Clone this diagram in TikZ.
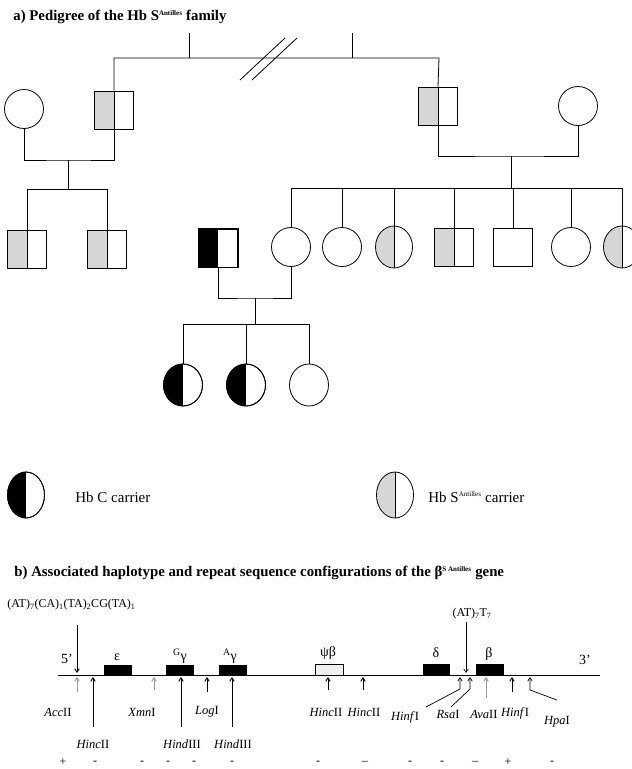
\documentclass[tikz,border=0pt]{standalone}
\usepackage{fontspec}
\setmainfont{Liberation Serif}
\usetikzlibrary{shapes.geometric,arrows.meta}
\definecolor{hgray}{gray}{0.84}
\definecolor{agray}{gray}{0.6}
\begin{document}
\begin{tikzpicture}[x=1pt,y=-1pt,line width=0.8pt,
  male/.style={draw,rectangle,minimum width=39pt,minimum height=38pt,inner sep=0pt},
  fem/.style={draw,circle,minimum size=39pt,inner sep=0pt},
  femE/.style={draw,ellipse,minimum width=37pt,minimum height=42pt,inner sep=0pt},
  halfgray/.style={path picture={\fill[hgray] (path picture bounding box.south west) rectangle (path picture bounding box.north);
     \draw[line width=0.8pt] (path picture bounding box.south) -- (path picture bounding box.north);}},
  halfblack/.style={path picture={\fill[black] (path picture bounding box.south west) rectangle (path picture bounding box.north);}},
  ttl/.style={font=\fontsize{14.8}{16}\selectfont\bfseries,anchor=west,inner sep=0pt},
  lbl/.style={font=\fontsize{15}{17}\selectfont,inner sep=0pt},
  enzl/.style={font=\fontsize{12.5}{14}\selectfont,inner sep=0pt},
  sgn/.style={font=\fontsize{12}{13}\selectfont,inner sep=0pt},
  gene/.style={draw,fill=black,line width=0.6pt},
  enz/.style={-{Straight Barb[length=3.5pt,width=4.5pt]},line width=0.9pt},
  genlbl/.style={font=\fontsize{14}{16}\selectfont,inner sep=0pt},
  rpl/.style={font=\fontsize{12}{14}\selectfont,inner sep=0pt}
]
\useasboundingbox (0,0) rectangle (632,769);

% ---------- titles ----------
\node[ttl] (ta) at (13,17) {a) Pedigree of the Hb S\textsuperscript{\scriptsize Antilles} family};
\node[ttl] (tb) at (14,573) {b) Associated haplotype and repeat sequence configurations of the β\textsuperscript{\scriptsize S Antilles} gene};

% ---------- generation I ----------
\node[fem] (gf1) at (24,109) {};
\node[male,halfgray] (gm1) at (114,110) {};
\node[male,halfgray] (gm2) at (438,106) {};
\node[fem] (gf2) at (578,106) {};

\coordinate (t1) at (114,58);
\coordinate (t2) at (439,58);
\coordinate (u1) at (189,33);
\coordinate (u1b) at (189,58);
\coordinate (u2) at (352,33);
\coordinate (u2b) at (352,58);
\draw (gm1.north) -- (t1) -- (t2) -- (gm2.north);
\draw (u1) -- (u1b);
\draw (u2) -- (u2b);
\coordinate (s1a) at (240,80); \coordinate (s1b) at (285,38);
\coordinate (s2a) at (252,80); \coordinate (s2b) at (297,38);
\draw (s1a) -- (s1b);
\draw (s2a) -- (s2b);

% couple 1
\coordinate (m1) at (68,160);
\draw (gf1.south) |- (m1) -| (gm1.south);
\coordinate (m1b) at (68,189);
\draw (m1) -- (m1b);
\node[male,halfgray] (c1) at (27,249) {};
\node[male,halfgray] (c2) at (107,249) {};
\coordinate (b1l) at (27,189);
\coordinate (b1r) at (107,189);
\draw (c1.north) -- (b1l) -- (b1r) -- (c2.north);

% couple 2
\coordinate (m2) at (511,156);
\draw (gm2.south) |- (m2) -| (gf2.south);
\coordinate (m2b) at (511,188);
\draw (m2) -- (m2b);
\node[fem] (d1) at (291,247) {};
\node[fem] (d2) at (342,247) {};
\node[femE,halfgray] (d3) at (394,247) {};
\node[male,halfgray] (d4) at (454,247) {};
\node[male] (d5) at (513,247) {};
\node[fem] (d6) at (571,247) {};
\node[femE,halfgray] (d7) at (622,247) {};
\coordinate (b2l) at (291,188);
\coordinate (b2r) at (622,188);
\draw (d1.north) -- (b2l) -- (b2r) -- (d7.north);
\foreach \n in {d2,d3,d4,d5,d6}{
  \draw (\n.north) -- (\n.north |- b2l);
}

% couple 3
\node[male,halfblack] (h) at (218,248) {};
\draw (h.north west) rectangle (h.south east);
\coordinate (m3) at (255,298);
\draw (h.south) |- (m3) -| (d1.south);
\coordinate (m3b) at (255,324);
\draw (m3) -- (m3b);
\node[femE,halfblack,minimum width=39pt] (g1) at (183,385) {};
\node[femE,halfblack,minimum width=39pt] (g2) at (246,385) {};
\node[femE,minimum width=39pt] (g3) at (309,385) {};
\draw (g1) ellipse [x radius=19.5pt,y radius=21pt];
\draw (g2) ellipse [x radius=19.5pt,y radius=21pt];
\coordinate (b3l) at (183,324);
\coordinate (b3r) at (309,324);
\draw (g1.north) -- (b3l) -- (b3r) -- (g3.north);
\draw (g2.north) -- (g2.north |- b3l);

% ---------- legend ----------
\node[femE,halfblack,minimum height=46pt] (l1) at (26,495) {};
\draw (l1) ellipse [x radius=18.5pt,y radius=23pt];
\node[lbl,anchor=west] (l1t) at (75,497) {Hb C carrier};
\node[femE,halfgray,minimum height=46pt] (l2) at (395,495) {};
\node[lbl,anchor=west] (l2t) at (428,497) {Hb S\textsuperscript{\scriptsize Antilles} carrier};

% ---------- gene map ----------
\coordinate (bl) at (58,675);
\coordinate (br) at (600,675);
\draw[line width=0.9pt] (bl) -- (br);
\node[genlbl] (p5) at (67,659) {5'};
\node[genlbl] (p3) at (585,660) {3'};

\fill[gene] (104,665) rectangle (131,675);
\fill[gene] (166,665) rectangle (193,675);
\fill[gene] (219,665) rectangle (246,675);
\filldraw[draw=black,fill=gray!12,line width=0.8pt] (315,664) rectangle (343,675);
\fill[gene] (423,664) rectangle (449,675);
\fill[gene] (476,664) rectangle (503,675);
\node[genlbl] (ge) at (117,657) {ε};
\node[genlbl] (ggg) at (180,656) {\textsuperscript{G}γ};
\node[genlbl] (gag) at (230,656) {\textsuperscript{A}γ};
\node[genlbl] (gpb) at (328,653) {ψβ};
\node[genlbl] (gd) at (436,653) {δ};
\node[genlbl] (gb) at (489,654) {β};

% repeat labels
\node[rpl,anchor=west] (rp1) at (7,605) {(AT)\textsubscript{7}(CA)\textsubscript{1}(TA)\textsubscript{2}CG(TA)\textsubscript{1}};
\node[rpl] (rp2) at (472,614) {(AT)\textsubscript{7}T\textsubscript{7}};
\coordinate (r1a) at (77,625); \coordinate (r1b) at (77,673);
\draw[enz] (r1a) -- (r1b);
\coordinate (r2a) at (466,622); \coordinate (r2b) at (466,673);
\draw[enz,line width=0.6pt] (r2a) -- (r2b);

% enzyme arrows
\draw[enz,agray] (77,692) -- (77,677);
\draw[enz] (93,727) -- (93,677);
\draw[enz,agray] (154,690) -- (154,677);
\draw[enz] (181,727) -- (181,677);
\draw[enz] (207,692) -- (207,677);
\draw[enz] (232,727) -- (232,677);
\draw[enz] (328,690) -- (328,677);
\draw[enz] (363,690) -- (363,677);
\draw[enz,line width=0.7pt] (426,707) -- (460,689) -- (460,677);
\draw[enz,line width=0.7pt] (451,707) -- (470,689) -- (470,677);
\draw[enz,agray] (486,698) -- (486,677);
\draw[enz] (512,692) -- (512,677);
\draw[enz,line width=0.7pt] (557,700) -- (530,690) -- (530,677);

% enzyme labels
\node[enzl] (e1) at (58,712) {\textit{Acc}II};
\node[enzl] (e2) at (93,744) {\textit{Hinc}II};
\node[enzl] (e3) at (142,712) {\textit{Xmn}I};
\node[enzl] (e4) at (182,744) {\textit{Hind}III};
\node[enzl] (e5) at (207,712) {\textit{Log}I};
\node[enzl] (e6) at (233,744) {\textit{Hind}III};
\node[enzl] (e7) at (326,712) {\textit{Hinc}II};
\node[enzl] (e8) at (364,712) {\textit{Hinc}II};
\node[enzl] (e9) at (405,717) {\textit{Hinf}I};
\node[enzl] (e10) at (448,714) {\textit{Rsa}I};
\node[enzl] (e11) at (484,714) {\textit{Ava}II};
\node[enzl] (e12) at (515,713) {\textit{Hinf}I};
\node[enzl] (e13) at (557,722) {\textit{Hpa}I};

% +/- row
\node[sgn] (z1) at (63,762) {+};
\foreach \xx [count=\i] in {95,142,168,194,232,318,410,442,552}{
  \node[sgn] (zm\i) at (\xx,763) {-};
}
\node[sgn] (zl1) at (365,763) {–};
\node[sgn] (zl2) at (475,763) {–};
\node[sgn] (z2) at (508,762) {+};
\end{tikzpicture}
\end{document}
